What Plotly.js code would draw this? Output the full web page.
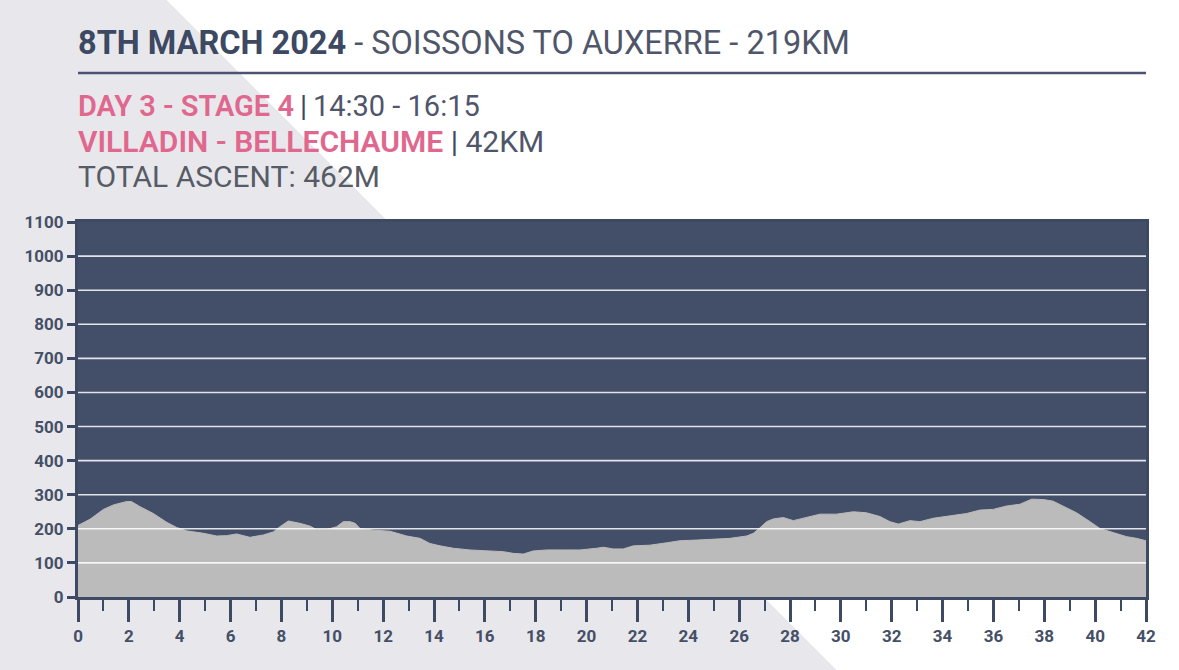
<!DOCTYPE html>
<html>
<head>
<meta charset="utf-8">
<script src="https://cdn.plot.ly/plotly-3.0.1.min.js"></script>
<style>
html,body{margin:0;padding:0;width:1179px;height:670px;overflow:hidden;}
body{background:linear-gradient(45deg, #e8e8ec 591.8px, #ffffff 591.8px);}
#chart{width:1179px;height:670px;}
</style>
</head>
<body>
<div id="chart"></div>
<script>
const distanceKm = [0, 0.47, 1.0, 1.39, 1.91, 2.1, 2.44, 2.96, 3.49, 3.88, 4.27, 4.93, 5.45, 5.85, 6.24, 6.76, 7.29, 7.68, 7.94, 8.27, 8.73, 9.12, 9.38, 9.78, 10.17, 10.43, 10.7, 10.9, 11.09, 11.6, 12.27, 12.92, 13.45, 13.84, 14.24, 14.76, 15.41, 16.07, 16.72, 17.12, 17.51, 17.9, 18.43, 19.08, 19.74, 20.4, 20.66, 21.05, 21.44, 21.84, 22.49, 23.15, 23.67, 24.33, 24.98, 25.64, 26.3, 26.56, 26.82, 27.08, 27.34, 27.74, 28.13, 28.66, 29.18, 29.83, 30.49, 31.01, 31.54, 31.93, 32.26, 32.72, 33.11, 33.63, 34.29, 34.95, 35.47, 35.99, 36.52, 37.04, 37.5, 37.96, 38.35, 38.75, 39.27, 39.8, 40.19, 40.71, 41.24, 41.63, 42];
const elevationM = [210, 228, 257, 270, 280, 280, 265, 245, 219, 204, 194, 187, 179, 180, 185, 175, 182, 191, 206, 223, 216, 208, 198, 198, 206, 221, 221, 216, 201, 196, 193, 179, 172, 157, 150, 143, 138, 135, 133, 128, 126, 135, 138, 138, 138, 143, 146, 141, 141, 150, 152, 159, 165, 167, 170, 172, 179, 187, 203, 221, 229, 233, 224, 233, 243, 243, 250, 247, 236, 221, 214, 224, 221, 231, 237, 245, 255, 257, 267, 272, 287, 286, 281, 267, 247, 221, 201, 189, 177, 172, 165];
const xTickVals = [0, 2, 4, 6, 8, 10, 12, 14, 16, 18, 20, 22, 24, 26, 28, 30, 32, 34, 36, 38, 40, 42];
const yTickVals = [0, 100, 200, 300, 400, 500, 600, 700, 800, 900, 1000, 1100];
const gridVals = [100, 200, 300, 400, 500, 600, 700, 800, 900, 1000];

const headlineBold = "8TH MARCH 2024";
const headlineRest = " - SOISSONS TO AUXERRE - 219KM";
const stageLabel = "DAY 3 - STAGE 4";
const stageTime = "14:30 - 16:15";
const routeLabel = "VILLADIN - BELLECHAUME";
const routeDistance = "42KM";
const ascentLabel = "TOTAL ASCENT: 462M";

// ---- styling ----
const W = 1179, H = 670;
const M = {l: 78, r: 33, t: 222, b: 73};
const plotW = W - M.l - M.r, plotH = H - M.t - M.b;
const px2x = p => (p - M.l) / plotW;
const py2y = p => (H - M.b - p) / plotH;

const navy = '#434e68';
const axisCol = '#3e4963';
const labelCol = '#454f66';
const pink = '#e0678e';
const grayText = '#50566a';
const FONT = 'Roboto, "Open Sans", sans-serif';

const trace = {
  x: distanceKm, y: elevationM, type: 'scatter', mode: 'lines',
  fill: 'tozeroy', fillcolor: '#bbbbbb',
  line: {color: '#bbbbbb', width: 1}, hoverinfo: 'skip'
};

const shapes = [
  {type: 'line', xref: 'paper', yref: 'paper', x0: 0, x1: 1, y0: py2y(73), y1: py2y(73),
   line: {color: '#4a5470', width: 2.5}}
];
gridVals.forEach(v => shapes.push({
  type: 'line', xref: 'paper', yref: 'y', x0: 0, x1: 1, y0: v, y1: v, layer: 'above',
  line: {color: 'rgba(255,255,255,0.85)', width: 1.6}
}));

const sep = `<span style="color:${axisCol}">|</span>`;
const annotations = [
  {text: `<b>${headlineBold}</b><span style="color:${grayText}">${headlineRest}</span>`,
   font: {family: FONT, size: 32.5, color: '#3d4862'}, y: py2y(43)},
  {text: `<span style="color:${pink};font-weight:600">${stageLabel}</span>\u2009${sep}\u2009${stageTime}`,
   font: {family: FONT, size: 29, color: grayText}, y: py2y(106)},
  {text: `<span style="color:${pink};font-weight:600">${routeLabel}</span> ${sep} ${routeDistance}`,
   font: {family: FONT, size: 30, color: grayText}, y: py2y(141)},
  {text: ascentLabel, font: {family: FONT, size: 30, color: '#575b66'}, y: py2y(177)}
].map(a => Object.assign({xref: 'paper', yref: 'paper', x: px2x(76), xanchor: 'left', yanchor: 'middle', showarrow: false}, a));

const tickFont = {family: FONT, size: 17, color: labelCol, weight: 'bold'};

const layout = {
  width: W, height: H, margin: {l: M.l, r: M.r, t: M.t, b: M.b, pad: 0},
  paper_bgcolor: 'rgba(0,0,0,0)', plot_bgcolor: navy, showlegend: false,
  xaxis: {range: [0, 42], tickmode: 'array', tickvals: xTickVals, ticktext: xTickVals.map(String),
    ticks: 'outside', ticklen: 22, tickwidth: 3, tickcolor: axisCol,
    minor: {dtick: 1, tick0: 0, ticks: 'outside', ticklen: 11, tickwidth: 2, tickcolor: axisCol, showgrid: false},
    showgrid: false, zeroline: false, showline: true, linecolor: axisCol, linewidth: 3, mirror: true,
    tickfont: tickFont, fixedrange: true},
  yaxis: {range: [0, 1100], tickmode: 'array', tickvals: yTickVals, ticktext: yTickVals.map(String),
    ticks: 'outside', ticklen: 8, tickwidth: 3, tickcolor: axisCol,
    showgrid: false, zeroline: false, showline: true, linecolor: axisCol, linewidth: 3, mirror: true,
    tickfont: tickFont, fixedrange: true},
  shapes: shapes, annotations: annotations
};

Plotly.newPlot('chart', [trace], layout, {displayModeBar: false, staticPlot: true});
</script>
</body>
</html>
